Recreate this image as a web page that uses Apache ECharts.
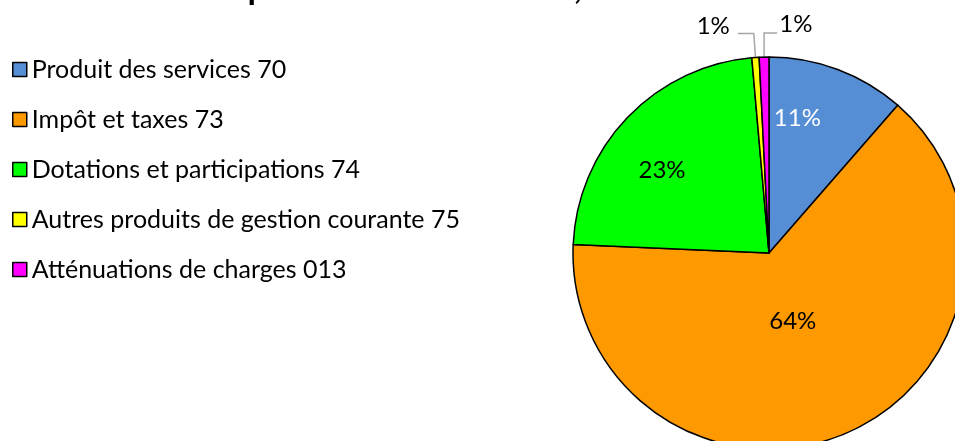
<!DOCTYPE html>
<html>
<head>
<meta charset="utf-8">
<script src="https://cdn.jsdelivr.net/npm/echarts@6/dist/echarts.min.js"></script>
<style>
  html, body { margin: 0; padding: 0; background: #fff; }
  #chart { width: 955px; height: 441px; }
</style>
</head>
<body>
<div id="chart"></div>
<script>
const categories = [
  "Produit des services 70",
  "Impôt et taxes 73",
  "Dotations et participations 74",
  "Autres produits de gestion courante 75",
  "Atténuations de charges 013",
];
const shares = [11.4, 64.3, 22.9, 0.6, 0.8];
const colors = ["#558ED5", "#FF9900", "#00FF00", "#FFFF00", "#FF00FF"];
const label_colors = ["#fff", "#000", "#000", "#000", "#000"];
const small_slices = [false, false, false, true, true];

// label nudges to mimic the original placement
const label_shift = [[-7, -40], [-16, -25], [-34, -13], [-3, -7], [70, -9]];

const font = "Lato, 'Open Sans', sans-serif";
const chart = echarts.init(document.getElementById("chart"));

chart.setOption({
  backgroundColor: "#fff",
  animation: false,
  title: {
    text: "Répartition des recettes, 2023",
    left: 203,
    top: -35,
    padding: 5,
    textStyle: { color: "#000", fontSize: 34.5, fontWeight: "bold", fontFamily: font },
  },
  legend: {
    orient: "vertical",
    left: 12,
    top: 57,
    padding: 0,
    itemWidth: 14,
    itemHeight: 14,
    itemGap: 25,
    icon: "rect",
    selectedMode: false,
    itemStyle: { borderColor: "#000", borderWidth: 1.5 },
    textStyle: { color: "#000", fontSize: 25, fontFamily: font },
    data: categories,
  },
  series: [
    {
      type: "pie",
      center: [769, 253],
      radius: 196,
      startAngle: 90,
      clockwise: true,
      avoidLabelOverlap: false,
      itemStyle: { borderColor: "#000", borderWidth: 1.5 },
      labelLine: { length: 24, length2: 16, lineStyle: { color: "#A6A6A6", width: 1.5 } },
      labelLayout: (p) => {
        const out = { dx: label_shift[p.dataIndex][0], dy: label_shift[p.dataIndex][1] };
        const pts = p.labelLinePoints;
        if (p.dataIndex === 4 && pts) {
          // send the last leader line to the right side, as in the original
          const x0 = pts[0][0];
          const y1 = pts[1][1];
          out.labelLinePoints = [pts[0], [x0, y1], [x0 + 13, y1]];
        }
        return out;
      },
      data: categories.map((name, i) => ({
        name: name,
        value: shares[i],
        itemStyle: { color: colors[i] },
        label: {
          show: true,
          position: small_slices[i] ? "outside" : "inside",
          formatter: (p) => Math.round(p.value) + "%",
          color: label_colors[i],
          fontSize: 24,
          fontFamily: font,
        },
        labelLine: { show: small_slices[i] },
      })),
    },
  ],
});
</script>
</body>
</html>
